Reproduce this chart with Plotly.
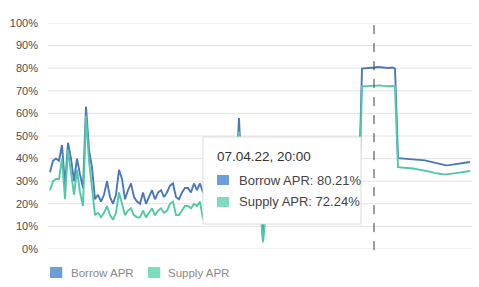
import pandas as pd
import plotly.graph_objects as go

series_names = ["Borrow APR", "Supply APR"]
start_time = "2022-03-25 08:00"
step = "3h"
hover_time = "2022-04-07 20:00"
hover_label = "07.04.22, 20:00"

borrow_apr = [
    34, 39, 40, 39, 46, 28, 47, 40, 30, 40,
    33, 27, 63, 44, 36, 22, 24, 21, 24, 30,
    23, 20, 24, 35, 31, 22, 26, 29, 23, 21,
    20, 25, 20, 23, 26, 22, 25, 26, 23, 25,
    28, 29, 23, 22, 25, 27, 27, 25, 29, 26,
    29, 25, 27, 25, 28, 26, 24, 27, 29, 26,
    25, 28, 30, 58, 27, 25, 26, 28, 24, 26,
    27, 4, 26, 27, 25, 28, 26, 27, 29, 27,
    25, 26, 28, 27, 26, 25, 27, 28, 26, 27,
    29, 28, 26, 27, 25, 26, 28, 27, 29, 28,
    27, 26, 28, 29,
    79.8, 80.0, 80.1, 80.2, 80.21, 80.5, 80.4, 80.2, 80.0, 80.1, 80.3, 79.9,
    40.2, 40.1, 40.0, 40.0, 39.9, 39.8, 39.7, 39.6, 39.4, 39.2,
    38.9, 38.6, 38.2, 37.8, 37.4, 37.2, 37.0, 37.1, 37.3, 37.5,
    37.7, 37.9, 38.1, 38.3, 38.5,
]

supply_apr = [
    26, 30, 31, 31, 40, 22, 44, 33, 24, 35,
    25, 19, 59, 39, 28, 15, 16, 14, 16, 19,
    15, 13, 16, 25, 20, 15, 17, 18, 15, 14,
    14, 17, 14, 16, 18, 15, 17, 18, 16, 17,
    20, 21, 15, 15, 17, 19, 19, 18, 20, 19,
    21, 13, 19, 18, 20, 19, 17, 19, 21, 18,
    18, 20, 21, 52, 19, 18, 18, 20, 17, 18,
    19, 3, 18, 19, 18, 20, 18, 19, 21, 19,
    18, 18, 20, 19, 18, 18, 19, 20, 18, 19,
    21, 20, 18, 19, 18, 18, 20, 19, 21, 20,
    19, 18, 20, 21,
    72.0, 72.1, 72.2, 72.2, 72.24, 72.6, 72.4, 72.2, 72.0, 72.0, 72.1, 72.0,
    36.2, 36.0, 35.9, 35.8, 35.7, 35.6, 35.4, 35.2, 35.0, 34.8,
    34.5, 34.1, 33.7, 33.4, 33.2, 33.1, 33.0, 33.1, 33.3, 33.5,
    33.7, 33.9, 34.1, 34.3, 34.5,
]

y_ticks = list(range(0, 101, 10))
y_tick_labels = [f"{v}%" for v in y_ticks]

line_colors = ["#4a78b8", "#4ecaa6"]
legend_colors = ["#6e9ed8", "#7cdcbf"]
grid_color = "#e3e3e3"

times = pd.date_range(start=start_time, periods=len(borrow_apr), freq=step)
hover_idx = list(times).index(pd.Timestamp(hover_time))

fig = go.Figure()

# horizontal grid lines (drawn beneath the traces)
for v in y_ticks:
    fig.add_shape(type="line", xref="paper", yref="y", x0=0, x1=1, y0=v, y1=v,
                  line=dict(color=grid_color, width=1), layer="below")

for name, vals, col in zip(series_names, [borrow_apr, supply_apr], line_colors):
    fig.add_trace(go.Scatter(x=times, y=vals, mode="lines", name=name,
                             line=dict(color=col, width=1.9), showlegend=False))

x_start = times[0] - pd.Timedelta("2h")
x_end = times[-1] + pd.Timedelta("2h")

fig.update_layout(
    template="none",
    width=479, height=287,
    margin=dict(l=48, r=7, t=23, b=38, pad=0),
    paper_bgcolor="white", plot_bgcolor="white",
    font=dict(family="Liberation Sans, Arial, sans-serif", size=11, color="#555"),
    hovermode=False,
    showlegend=False,
)
fig.update_xaxes(range=[x_start, x_end], showgrid=False, zeroline=False,
                 showticklabels=False, showline=False, ticks="")
fig.update_yaxes(range=[0, 100], tickmode="array", tickvals=y_ticks,
                 ticktext=y_tick_labels, showgrid=False,
                 zeroline=False, showline=False,
                 ticks="", ticklabelstandoff=9, automargin=False,
                 tickfont=dict(family="Liberation Sans, Arial, sans-serif",
                               size=11, color="#4d4d4d"))

# hover spike line
fig.add_shape(type="line", xref="x", yref="paper", x0=times[hover_idx], x1=times[hover_idx],
              y0=-0.005, y1=1.005, line=dict(color="#3a3a3a", width=1, dash="dash"))

# tooltip box
fig.add_shape(type="rect", xref="paper", yref="paper", x0=0.3656, x1=0.7382,
              y0=0.1106, y1=0.4956, fillcolor="white",
              line=dict(color="#dcdcdc", width=1), layer="above")
fig.add_annotation(xref="paper", yref="paper", x=0.3939, y=0.4115, xanchor="left",
                   yanchor="middle", text=hover_label, showarrow=False,
                   font=dict(size=13.5, color="#333"))
row_y = [0.3053, 0.2080]
vals_at = [borrow_apr[hover_idx], supply_apr[hover_idx]]
for name, v, col, yy in zip(series_names, vals_at, legend_colors, row_y):
    fig.add_shape(type="rect", xref="paper", yref="paper", x0=0.3986, x1=0.4269,
                  y0=yy - 0.0221, y1=yy + 0.0221, fillcolor=col, line=dict(width=0),
                  layer="above")
    fig.add_annotation(xref="paper", yref="paper", x=0.4458, y=yy, xanchor="left",
                       yanchor="middle", text=f"{name}: {v:.2f}%", showarrow=False,
                       font=dict(size=13, color="#444"))

# legend
leg_sq = [0.0047, 0.2358]
leg_tx = [0.0495, 0.2783]
for name, col, sx, tx in zip(series_names, legend_colors, leg_sq, leg_tx):
    fig.add_shape(type="rect", xref="paper", yref="paper", x0=sx, x1=sx + 0.0290,
                  y0=-0.1283, y1=-0.0796, fillcolor=col, line=dict(width=0))
    fig.add_annotation(xref="paper", yref="paper", x=tx, y=-0.1040, xanchor="left",
                       yanchor="middle", text=name, showarrow=False,
                       font=dict(size=11.5, color="#8a8a8a"))

fig.write_html("out.html")
